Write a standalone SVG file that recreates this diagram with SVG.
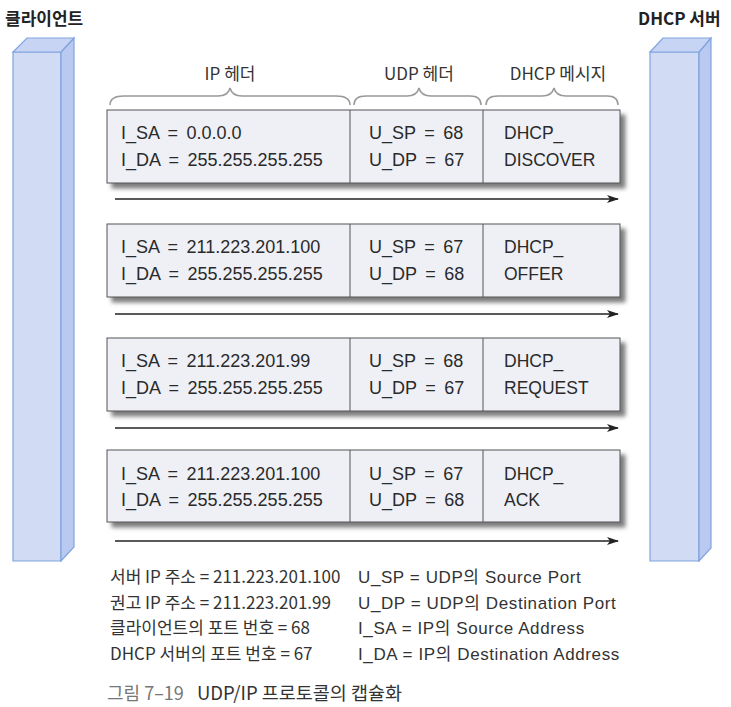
<svg xmlns="http://www.w3.org/2000/svg" width="731" height="707" viewBox="0 0 731 707">
<defs>
<style>
text{font-family:"Liberation Sans","Noto Sans CJK KR",sans-serif;fill:#2a2a2a}
.ko{font-family:"Noto Sans CJK KR","Liberation Sans",sans-serif}
.t{font-size:18px;word-spacing:3.5px}
.d{font-size:17.5px}
.h{font-size:17px;fill:#333}
.lg{font-size:17px;fill:#333}
.lr{font-size:17px;fill:#333;letter-spacing:0.6px;font-family:"Liberation Sans","Noto Sans CJK KR",sans-serif}
.ttl{font-size:17px;font-weight:bold;fill:#222}
.box{fill:#eef0f6;stroke:#555;stroke-width:1}
.div{stroke:#555;stroke-width:1}
.brace{fill:none;stroke:#999;stroke-width:1.5}
.arr{stroke:#222;stroke-width:1.3;fill:none}
.front{fill:#d2dbf4;stroke:#7fa3e0;stroke-width:1.2}
.side{fill:#b9c9f0;stroke:#7fa3e0;stroke-width:1.2}
.top{fill:#c8d4f3;stroke:#7fa3e0;stroke-width:1.2}
</style>
<filter id="sh" x="-5%" y="-20%" width="115%" height="160%">
<feDropShadow dx="5" dy="5" stdDeviation="2" flood-color="#666" flood-opacity="0.85"/>
</filter>
<marker id="ah" markerWidth="12" markerHeight="8" refX="11" refY="4" orient="auto" markerUnits="userSpaceOnUse">
<path d="M0,0 L12,4 L0,8 L3,4 Z" fill="#222"/>
</marker>
</defs>
<rect width="731" height="707" fill="#fff"/>

<g id="client">
<polygon class="front" points="13,52 61,52 61,561 13,561"/>
<polygon class="side" points="61,52 74,38 74,547 61,561"/>
<polygon class="top" points="13,52 27,38 74,38 61,52"/>
<text class="ttl ko" x="5" y="25">클라이언트</text>
</g>

<g id="server">
<polygon class="front" points="650,52 699,52 699,561 650,561"/>
<polygon class="side" points="699,52 711,38 711,548 699,561"/>
<polygon class="top" points="650,52 663,38 711,38 699,52"/>
<text class="ttl ko" x="638" y="25">DHCP 서버</text>
</g>

<g id="headers">
<path class="brace" d="M110,105 Q110,96 124,96 L218,96 Q228,96 230,88 Q232,96 242,96 L336,96 Q350,96 350,105"/>
<text class="h ko" x="230" y="80" text-anchor="middle">IP 헤더</text>
<path class="brace" d="M354,105 Q354,96 366,96 L407,96 Q417,96 419,88 Q421,96 431,96 L470,96 Q481,96 481,105"/>
<text class="h ko" x="419" y="80" text-anchor="middle">UDP 헤더</text>
<path class="brace" d="M486,105 Q486,96 498,96 L542,96 Q552,96 554,88 Q556,96 566,96 L607,96 Q618,96 618,105"/>
<text class="h ko" x="558" y="80" text-anchor="middle">DHCP 메시지</text>
</g>

<g id="msg1">
<rect class="box" x="107" y="110" width="513" height="73" filter="url(#sh)"/>
<line class="div" x1="350" y1="110" x2="350" y2="183"/>
<line class="div" x1="483" y1="110" x2="483" y2="183"/>
<text class="t" x="121" y="139">I_SA = 0.0.0.0</text>
<text class="t" x="121" y="166">I_DA = 255.255.255.255</text>
<text class="t" x="369" y="139">U_SP = 68</text>
<text class="t" x="369" y="166">U_DP = 67</text>
<text class="d" x="504" y="139">DHCP_</text>
<text class="d" x="504" y="166">DISCOVER</text>
</g>

<g id="msg2">
<rect class="box" x="107" y="224" width="513" height="73" filter="url(#sh)"/>
<line class="div" x1="350" y1="224" x2="350" y2="297"/>
<line class="div" x1="483" y1="224" x2="483" y2="297"/>
<text class="t" x="121" y="253">I_SA = 211.223.201.100</text>
<text class="t" x="121" y="280">I_DA = 255.255.255.255</text>
<text class="t" x="369" y="253">U_SP = 67</text>
<text class="t" x="369" y="280">U_DP = 68</text>
<text class="d" x="504" y="253">DHCP_</text>
<text class="d" x="504" y="280">OFFER</text>
</g>

<g id="msg3">
<rect class="box" x="107" y="338" width="513" height="73" filter="url(#sh)"/>
<line class="div" x1="350" y1="338" x2="350" y2="411"/>
<line class="div" x1="483" y1="338" x2="483" y2="411"/>
<text class="t" x="121" y="367">I_SA = 211.223.201.99</text>
<text class="t" x="121" y="394">I_DA = 255.255.255.255</text>
<text class="t" x="369" y="367">U_SP = 68</text>
<text class="t" x="369" y="394">U_DP = 67</text>
<text class="d" x="504" y="367">DHCP_</text>
<text class="d" x="504" y="394">REQUEST</text>
</g>

<g id="msg4">
<rect class="box" x="107" y="450" width="513" height="72" filter="url(#sh)"/>
<line class="div" x1="350" y1="450" x2="350" y2="522"/>
<line class="div" x1="483" y1="450" x2="483" y2="522"/>
<text class="t" x="121" y="480">I_SA = 211.223.201.100</text>
<text class="t" x="121" y="506">I_DA = 255.255.255.255</text>
<text class="t" x="369" y="480">U_SP = 67</text>
<text class="t" x="369" y="506">U_DP = 68</text>
<text class="d" x="504" y="480">DHCP_</text>
<text class="d" x="504" y="506">ACK</text>
</g>

<g id="connectors">
<line class="arr" x1="115" y1="199" x2="618" y2="199" marker-end="url(#ah)"/>
<line class="arr" x1="115" y1="314" x2="618" y2="314" marker-end="url(#ah)"/>
<line class="arr" x1="115" y1="428" x2="618" y2="428" marker-end="url(#ah)"/>
<line class="arr" x1="115" y1="541" x2="618" y2="541" marker-end="url(#ah)"/>
</g>

<g id="legend">
<text class="lg ko" x="110" y="583">서버 IP 주소 = 211.223.201.100</text>
<text class="lg ko" x="110" y="609">권고 IP 주소 = 211.223.201.99</text>
<text class="lg ko" x="110" y="634">클라이언트의 포트 번호 = 68</text>
<text class="lg ko" x="110" y="660">DHCP 서버의 포트 번호 = 67</text>
<text class="lr" x="358" y="583">U_SP = UDP의 Source Port</text>
<text class="lr" x="358" y="609">U_DP = UDP의 Destination Port</text>
<text class="lr" x="358" y="634">I_SA = IP의 Source Address</text>
<text class="lr" x="358" y="660">I_DA = IP의 Destination Address</text>
</g>

<g id="caption">
<text class="ko" x="107" y="700" style="font-size:18px;fill:#777">그림 7–19</text>
<text class="ko" x="197" y="700" style="font-size:18.5px;fill:#333">UDP/IP 프로토콜의 캡슐화</text>
</g>
</svg>
